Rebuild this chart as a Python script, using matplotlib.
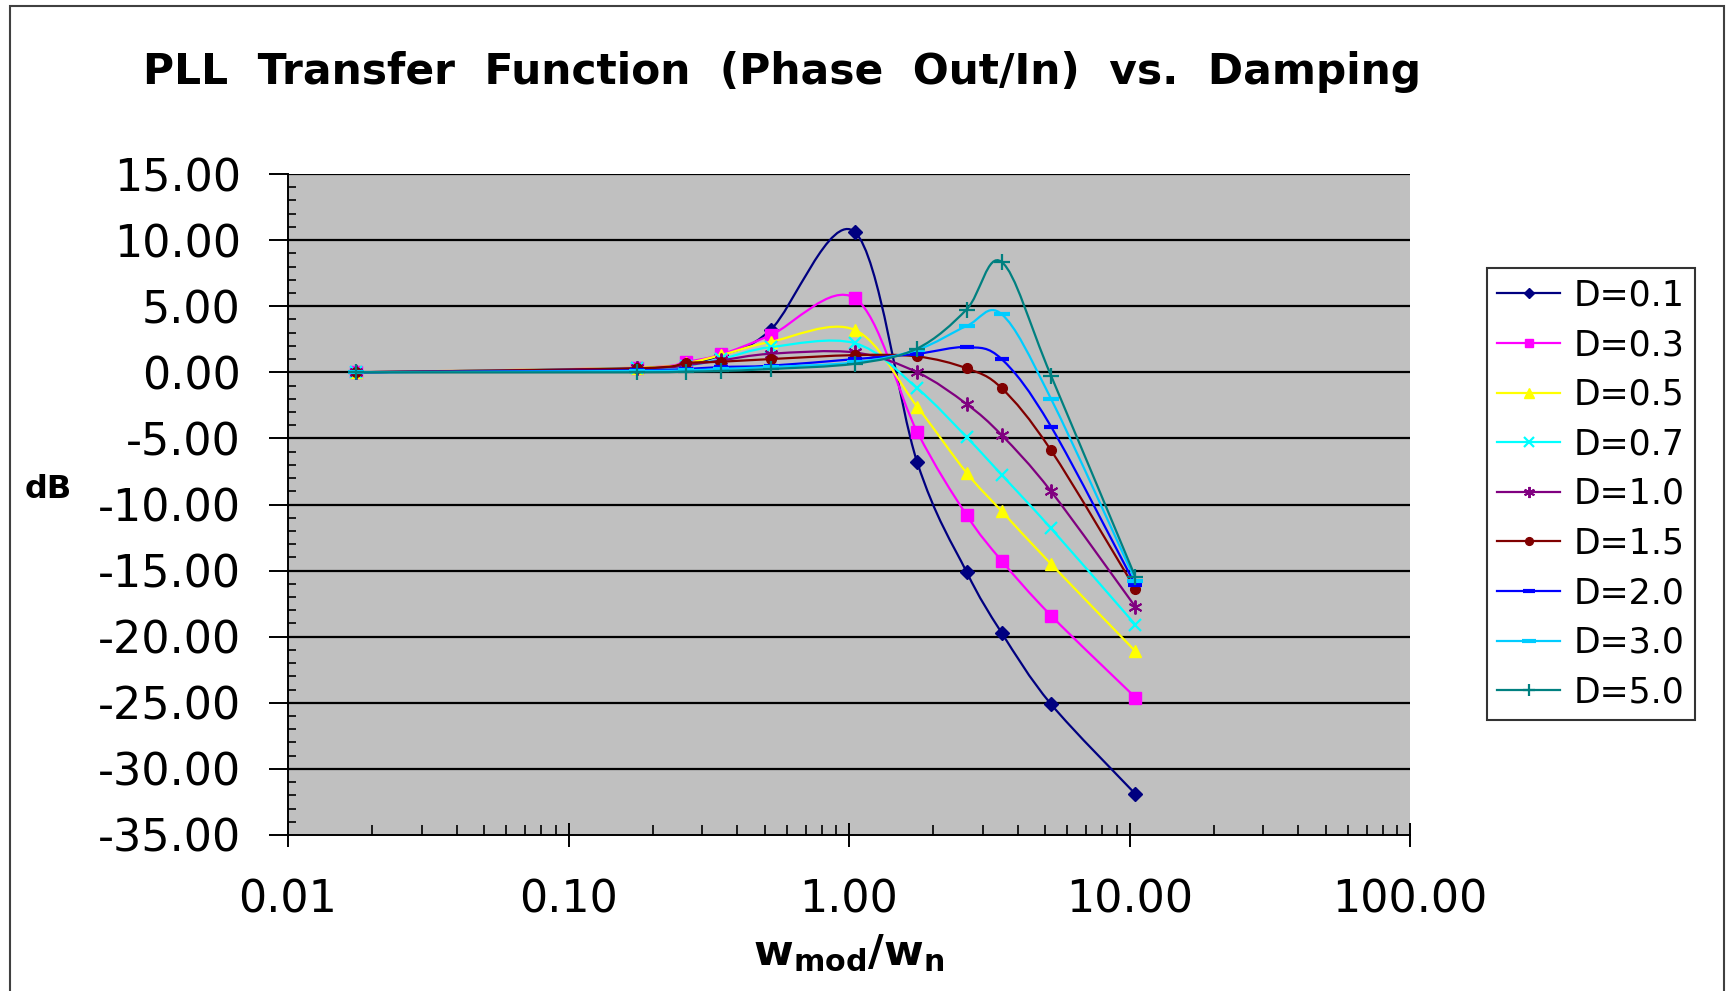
import numpy as np
import matplotlib
matplotlib.use('Agg')
import matplotlib.pyplot as plt
from matplotlib.path import Path
from matplotlib.patches import PathPatch, Rectangle
from matplotlib.lines import Line2D
from matplotlib.ticker import FixedLocator, FixedFormatter, MultipleLocator, LogLocator, NullFormatter

plt.rcParams['font.family'] = ['DejaVu Sans']
plt.rcParams['mathtext.fontset'] = 'custom'
plt.rcParams['mathtext.rm'] = 'DejaVu Sans'
plt.rcParams['mathtext.bf'] = 'DejaVu Sans:bold'

# w_mod / w_n
ratio = [0.0175, 0.175, 0.2625, 0.35, 0.525, 1.05, 1.75, 2.625, 3.5, 5.25, 10.5]

# dB values, one list per damping
d01 = [0.0, 0.30, 0.70, 1.30, 3.20, 10.60, -6.80, -15.10, -19.70, -25.10, -31.90]
d03 = [0.0, 0.35, 0.80, 1.35, 2.80, 5.60, -4.50, -10.80, -14.25, -18.40, -24.60]
d05 = [0.0, 0.35, 0.70, 1.30, 2.30, 3.20, -2.60, -7.60, -10.50, -14.50, -21.10]
d07 = [0.0, 0.30, 0.50, 1.00, 1.90, 2.20, -1.20, -4.90, -7.75, -11.80, -19.10]
d10 = [0.0, 0.30, 0.55, 0.90, 1.40, 1.50, 0.00, -2.40, -4.75, -9.00, -17.75]
d15 = [0.0, 0.30, 0.70, 0.80, 1.00, 1.30, 1.20, 0.30, -1.20, -5.90, -16.40]
d20 = [0.0, 0.15, 0.25, 0.40, 0.50, 1.00, 1.40, 1.90, 1.00, -4.10, -16.10]
d30 = [0.0, 0.10, 0.15, 0.25, 0.40, 0.75, 1.70, 3.50, 4.40, -2.00, -15.75]
d50 = [0.0, 0.00, 0.05, 0.10, 0.25, 0.65, 1.80, 4.75, 8.35, -0.25, -15.50]

labels = ['D=0.1', 'D=0.3', 'D=0.5', 'D=0.7', 'D=1.0', 'D=1.5', 'D=2.0', 'D=3.0', 'D=5.0']
series = [d01, d03, d05, d07, d10, d15, d20, d30, d50]
colors = ['#000080', '#FF00FF', '#FFFF00', '#00FFFF', '#800080', '#800000', '#0000FF', '#00CCFF', '#008080']
# marker, size, edge width, filled
markers = [('D', 7, 1, True), ('s', 8, 1, True), ('^', 9, 1, True), ('x', 9, 1.6, False),
           ((6, 2, 0), 10, 1.4, False), ('o', 7, 1, True), ('_', 10, 3, False),
           ('_', 12, 3, False), ('+', 11, 1.6, False)]

y_ticks = [15, 10, 5, 0, -5, -10, -15, -20, -25, -30, -35]
x_ticks = [0.01, 0.1, 1, 10, 100]
x_ticklabels = ['0.01', '0.10', '1.00', '10.00', '100.00']


def smooth_path(xs, ys):
    # Excel-like smoothed line: cubic bezier through the points, done in log-x space
    u = np.log10(xs)
    v = np.asarray(ys, dtype=float)
    n = len(u)
    verts = [(xs[0], v[0])]
    codes = [Path.MOVETO]
    for i in range(n - 1):
        a = i - 1 if i > 0 else i
        b = i + 2 if i + 2 < n else i + 1
        c1u = u[i] + (u[i + 1] - u[a]) / 6
        c1v = v[i] + (v[i + 1] - v[a]) / 6
        c2u = u[i + 1] - (u[b] - u[i]) / 6
        c2v = v[i + 1] - (v[b] - v[i]) / 6
        verts += [(10 ** c1u, c1v), (10 ** c2u, c2v), (xs[i + 1], v[i + 1])]
        codes += [Path.CURVE4] * 3
    return Path(verts, codes)


fig = plt.figure(figsize=(17.28, 9.91), dpi=100)
ax = fig.add_axes([288 / 1728, 1 - 835 / 991, (1410 - 288) / 1728, (835 - 174) / 991])
ax.set_facecolor('#C0C0C0')
ax.set_xscale('log')
ax.set_xlim(0.01, 100)
ax.set_ylim(-35, 15)

for yt in y_ticks[:-1]:
    ax.axhline(yt, color='black', lw=1.6, zorder=1)

handles = []
for k, (vals, col, mk) in enumerate(zip(series, colors, markers)):
    m, ms, mew, filled = mk
    patch = PathPatch(smooth_path(ratio, vals), fill=False, edgecolor=col, lw=1.6, zorder=3 + k)
    ax.add_patch(patch)
    ax.plot(ratio, vals, linestyle='none', marker=m, ms=ms, mew=mew, color=col,
            mfc=col if filled else 'none', mec=col, zorder=3 + k, clip_on=False)
    handles.append(Line2D([], [], color=col, lw=1.6, marker=m, ms=ms * 0.8, mew=mew,
                          mfc=col if filled else 'none', mec=col))

ax.spines['top'].set_visible(False)
ax.spines['right'].set_visible(False)
ax.spines['left'].set_linewidth(1.4)
ax.spines['bottom'].set_linewidth(1.4)

ax.yaxis.set_major_locator(FixedLocator(y_ticks))
ax.set_yticklabels(['%.2f' % t for t in y_ticks])
ax.yaxis.set_minor_locator(MultipleLocator(1))
ax.xaxis.set_major_locator(FixedLocator(x_ticks))
ax.xaxis.set_major_formatter(FixedFormatter(x_ticklabels))
ax.xaxis.set_minor_locator(LogLocator(base=10, subs=np.arange(2, 10), numticks=20))
ax.xaxis.set_minor_formatter(NullFormatter())

ax.tick_params(axis='y', which='major', direction='out', length=14, width=1.4, pad=20, labelsize=32)
ax.tick_params(axis='y', which='minor', direction='in', length=6, width=1.2)
ax.tick_params(axis='x', which='major', direction='inout', length=17, width=1.4, pad=23, labelsize=32)
ax.tick_params(axis='x', which='minor', direction='in', length=7, width=1.2)

fig.text(782 / 1728, 1 - 72 / 991, 'PLL  Transfer  Function  (Phase  Out/In)  vs.  Damping',
         ha='center', va='center', fontsize=30.5, fontweight='bold')
fig.text(48 / 1728, 1 - 490 / 991, 'dB', ha='center', va='center', fontsize=23, fontweight='bold')
fig.text(849 / 1728, 1 - 953 / 991, r'$\mathbf{w_{mod}/w_{n}}$', ha='center', va='center', fontsize=31)

leg = fig.legend(handles, labels, loc='upper left', bbox_to_anchor=(1487 / 1728, 1 - 268 / 991),
                 borderaxespad=0, frameon=True, fancybox=False, fontsize=25,
                 handlelength=1.8, handletextpad=0.4, labelspacing=0.45, borderpad=0.3)
leg.get_frame().set_edgecolor('black')
leg.get_frame().set_linewidth(1.5)

fig.patches.append(Rectangle((10 / 1728, -0.05), (1724 - 10) / 1728, 1.05 - 6 / 991,
                             transform=fig.transFigure, fill=False, edgecolor='#404040', lw=1.5))

fig.savefig('out.png', dpi=100)
